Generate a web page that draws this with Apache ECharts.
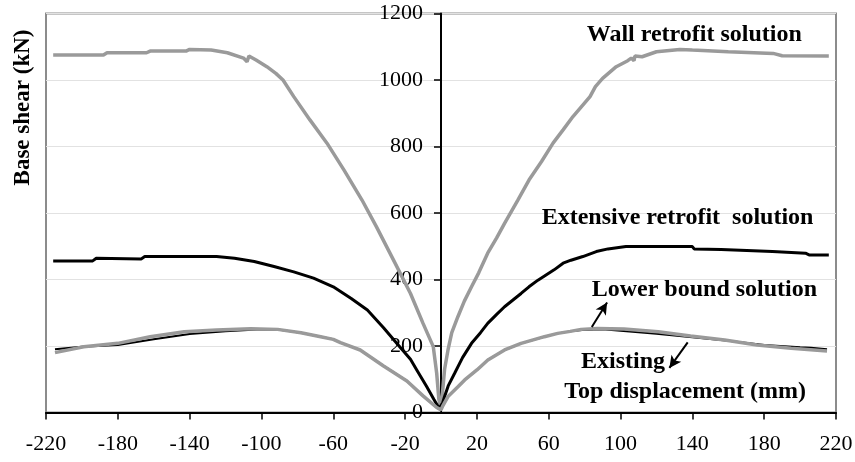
<!DOCTYPE html>
<html>
<head>
<meta charset="utf-8">
<script src="https://cdn.jsdelivr.net/npm/echarts@6/dist/echarts.min.js"></script>
<style>
  html, body { margin: 0; padding: 0; background: #fff; }
  #chart { width: 855px; height: 462px; }
</style>
</head>
<body>
<div id="chart"></div>
<script>
// Pushover curves: base shear (kN) against top displacement (mm), both loading directions
const xTicks = [-220, -180, -140, -100, -60, -20, 20, 60, 100, 140, 180, 220];

const wallRetrofit = [
  [-216, 1075], [-188, 1075], [-186, 1082], [-164, 1082], [-162, 1087], [-142, 1087],
  [-140, 1092], [-128, 1090], [-119, 1082], [-110, 1066], [-108, 1055], [-107, 1072],
  [-103, 1060], [-97, 1040], [-92, 1020], [-88, 1000], [-82, 950], [-73, 880],
  [-63.5, 810], [-54, 729], [-44, 639], [-36, 559], [-26.5, 459], [-17, 358],
  [-10, 268], [-4.3, 198], [-2.4, 118], [-1.2, 40], [0, 8],
  [1, 70], [2, 130], [3.9, 188], [6, 240], [9.4, 288], [13, 335], [17, 378],
  [21, 420], [26, 479], [31, 525], [35.4, 569], [42.8, 639], [49, 699], [56, 755],
  [62.4, 810], [68, 850], [73.5, 890], [83, 950], [86, 980], [90, 1005],
  [97.6, 1040], [104, 1058], [106, 1066], [107.5, 1058], [108, 1072], [112, 1070],
  [120, 1085], [133, 1092], [140, 1090], [160, 1085], [161, 1082], [185, 1080],
  [190, 1073], [216, 1072]
];

const extensiveRetrofit = [
  [-216, 456], [-194, 456], [-192, 464], [-167, 462], [-165, 469], [-125, 469],
  [-115, 464], [-104, 454], [-93, 439], [-82, 423], [-71, 404], [-60, 378],
  [-50, 343], [-41, 308], [-32, 255], [-23, 198], [-17, 160], [-13.5, 128],
  [-8, 78], [-4, 40], [-1, 12], [0, 8],
  [1, 30], [2, 48], [4, 80], [7.6, 118], [12, 165], [17, 208], [22, 240],
  [26, 268], [31, 295], [35.4, 318], [44.6, 358], [49, 378], [54, 398], [63, 429],
  [68, 449], [72.4, 458], [79, 469], [86.5, 484], [93, 492], [103, 499], [140, 499],
  [141, 492], [156, 490], [157, 484], [184.6, 484], [185, 479], [203, 479],
  [205, 474], [216, 474]
];

const lowerBound = [
  [-215, 180], [-199, 198], [-180, 208], [-162, 228], [-143, 243], [-125, 248],
  [-106, 252], [-91, 250], [-78, 240], [-67, 228], [-60, 220], [-56, 210],
  [-45, 188], [-32, 140], [-19, 95], [-10, 50], [-2.4, 15], [0, 8],
  [1, 20], [3.9, 48], [9.6, 78], [13.2, 98], [20, 128], [26.1, 158], [35.4, 188],
  [44.6, 208], [57.6, 228], [65, 238], [72, 244], [78, 250], [87, 253], [102, 251],
  [121, 243], [139, 230], [158, 218], [176, 203], [195, 193], [215, 185]
];

const existing = [
  [-215, 190], [-200, 198], [-180, 203], [-160, 220], [-140, 236], [-120, 244],
  [-100, 250], [-90, 249], [-78, 240], [-67, 228], [-60, 220], [-56, 210],
  [-45, 188], [-32, 140], [-19, 95], [-10, 50], [-2.4, 15], [0, 8],
  [1, 20], [3.9, 48], [9.6, 78], [13.2, 98], [20, 128], [26.1, 158], [35.4, 188],
  [44.6, 208], [57.6, 228], [65, 238], [72, 244], [80, 249], [90, 250], [100, 246],
  [120, 237], [140, 226], [160, 216], [180, 203], [200, 196], [206, 195],
  [207, 190], [215, 190]
];

// Leader arrows from the curves to their captions (start, tip) in data units
const lowerBoundArrow = [[84, 257], [92.5, 331]];
const existingArrow = [[137.4, 211], [127.2, 134]];

const SERIF = '"Liberation Serif", "Times New Roman", serif';
const GREY = '#9a9a9a';

const GRID_LEFT = 46;
const GRID_RIGHT = 19;
const CHART_W = 855;
// The vertical axis sits at zero displacement, in the middle of the plot
const yAxisShift = (CHART_W - GRID_LEFT - GRID_RIGHT) / 2;

const chart = echarts.init(document.getElementById('chart'), null, { renderer: 'canvas' });

function curve(name, data, color, width, extra) {
  return Object.assign({
    name: name,
    type: 'line',
    data: data,
    showSymbol: false,
    symbol: 'none',
    smooth: false,
    animation: false,
    lineStyle: { color: color, width: width },
    itemStyle: { color: color },
    silent: true
  }, extra || {});
}

function boldLabel(text, x, y) {
  return {
    type: 'text',
    x: x,
    y: y,
    z: 100,
    style: {
      text: text,
      fill: '#000',
      font: 'bold 24px ' + SERIF,
      textAlign: 'left',
      textVerticalAlign: 'middle'
    }
  };
}

chart.setOption({
  backgroundColor: '#fff',
  animation: false,
  grid: {
    left: GRID_LEFT,
    right: GRID_RIGHT,
    top: 13.5,
    bottom: 49.5,
    containLabel: false,
    outerBoundsMode: 'none',
    show: true,
    borderColor: '#8c8c8c',
    borderWidth: 2,
    backgroundColor: 'transparent'
  },
  xAxis: {
    type: 'value',
    min: -220,
    max: 220,
    axisLine: { onZero: true, lineStyle: { color: '#000', width: 2 } },
    axisTick: { show: true, customValues: xTicks, length: 7, inside: false, lineStyle: { color: '#000', width: 1.5 } },
    axisLabel: {
      customValues: xTicks,
      margin: 21,
      color: '#000',
      fontFamily: SERIF,
      fontSize: 22,
      formatter: v => String(v)
    },
    splitLine: { show: false }
  },
  yAxis: {
    type: 'value',
    position: 'left',
    offset: -yAxisShift,
    min: 0,
    max: 1200,
    interval: 200,
    axisLine: { show: true, onZero: false, lineStyle: { color: '#000', width: 2 } },
    axisTick: { show: true, length: 7, inside: false, lineStyle: { color: '#000', width: 1.5 } },
    axisLabel: {
      margin: 18,
      color: '#000',
      fontFamily: SERIF,
      fontSize: 22,
      formatter: v => String(v)
    },
    splitLine: { show: true, lineStyle: { color: '#e2e2e2', width: 1 } }
  },
  series: [
    curve('Wall retrofit solution', wallRetrofit, GREY, 3.5),
    curve('Extensive retrofit solution', extensiveRetrofit, '#000', 3),
    curve('Existing', existing, '#000', 2),
    curve('Lower bound solution', lowerBound, GREY, 3.5, {
      markLine: {
        silent: true,
        animation: false,
        symbol: ['none', 'arrow'],
        symbolSize: [9, 12],
        label: { show: false },
        itemStyle: { color: '#000' },
        lineStyle: { color: '#000', width: 2, type: 'solid' },
        emphasis: { disabled: true },
        data: [
          [{ coord: lowerBoundArrow[0] }, { coord: lowerBoundArrow[1] }],
          [{ coord: existingArrow[0] }, { coord: existingArrow[1] }]
        ]
      }
    })
  ],
  graphic: [
    {
      type: 'text',
      x: 23.3,
      y: 107.5,
      z: 100,
      rotation: Math.PI / 2,
      style: {
        text: 'Base shear (kN)',
        fill: '#000',
        font: 'bold 23px ' + SERIF,
        textAlign: 'center',
        textVerticalAlign: 'middle'
      }
    },
    boldLabel('Wall retrofit solution', 586.7, 34.7),
    boldLabel('Extensive retrofit  solution', 541.7, 218),
    boldLabel('Lower bound solution', 591.7, 289.7),
    boldLabel('Existing', 581, 361.3),
    boldLabel('Top displacement (mm)', 564.3, 391.3)
  ]
});
</script>
</body>
</html>
